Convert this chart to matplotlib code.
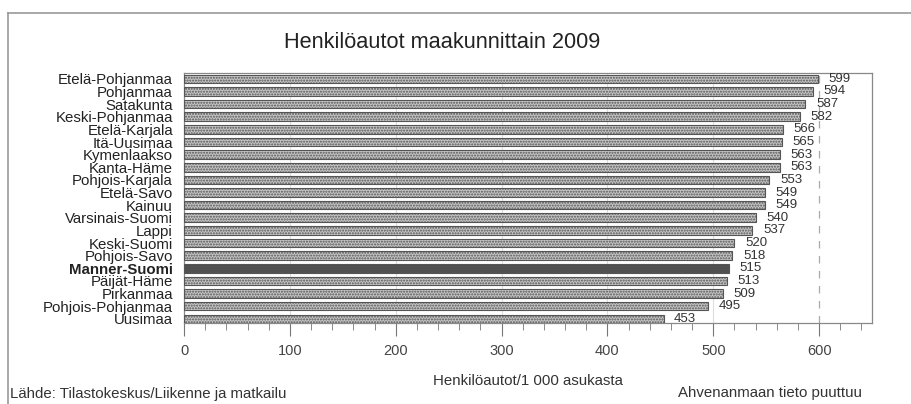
import numpy as np
import matplotlib.pyplot as plt

plt.rcParams['font.family'] = ['Liberation Sans', 'DejaVu Sans']
plt.rcParams['hatch.color'] = '#9a9a9a'

# Henkilöautot / 1 000 asukasta, 2009
regions = ['Etelä-Pohjanmaa', 'Pohjanmaa', 'Satakunta', 'Keski-Pohjanmaa',
           'Etelä-Karjala', 'Itä-Uusimaa', 'Kymenlaakso', 'Kanta-Häme',
           'Pohjois-Karjala', 'Etelä-Savo', 'Kainuu', 'Varsinais-Suomi',
           'Lappi', 'Keski-Suomi', 'Pohjois-Savo', 'Manner-Suomi',
           'Päijät-Häme', 'Pirkanmaa', 'Pohjois-Pohjanmaa', 'Uusimaa']
values = [599, 594, 587, 582, 566, 565, 563, 563, 553, 549, 549, 540,
          537, 520, 518, 515, 513, 509, 495, 453]
highlight = 'Manner-Suomi'

fig = plt.figure(figsize=(9.12, 4.04), dpi=100)
ax = fig.add_axes([0.2018, 0.2005, 0.7544, 0.619])

y = np.arange(len(regions))
colors = ['#4f4f4f' if r == highlight else '#c6c6c6' for r in regions]
ax.barh(y, values, height=0.68, color=colors, edgecolor='#555555',
        linewidth=0.8, hatch='......', zorder=3)

for yi, v in zip(y, values):
    ax.text(v + 10, yi, str(v), va='center', ha='left', fontsize=9.5,
            color='#333333')

ax.set_ylim(19.33, -0.47)
ax.set_xlim(0, 650)
ax.set_yticks(y)
ax.set_yticklabels(regions, fontsize=10.8, color='#222222')
for lbl in ax.get_yticklabels():
    if lbl.get_text() == highlight:
        lbl.set_fontweight('bold')
ax.tick_params(axis='y', length=0, pad=8)

ax.set_xticks(np.arange(0, 601, 100))
ax.set_xticks(np.arange(0, 650, 20), minor=True)
ax.tick_params(axis='x', which='major', direction='out', length=9,
               color='#777777', labelsize=10.5, labelcolor='#444444', pad=6)
ax.tick_params(axis='x', which='minor', direction='out', length=5,
               color='#777777')

for xv in range(100, 600, 100):
    ax.axvline(xv, color='#dddddd', lw=0.8, zorder=1)
ax.axvline(600, color='#aaaaaa', lw=0.9, ls=(0, (6, 6)), zorder=1)

for s in ax.spines.values():
    s.set_color('#888888')
    s.set_linewidth(0.9)

fig.text(0.485, 0.895, 'Henkilöautot maakunnittain 2009', ha='center',
         va='center', fontsize=15.7, color='#222222')
fig.text(0.579, 0.057, 'Henkilöautot/1 000 asukasta', ha='center',
         va='center', fontsize=10.8, color='#333333')
fig.text(0.011, 0.025, 'Lähde: Tilastokeskus/Liikenne ja matkailu',
         ha='left', va='center', fontsize=10.8, color='#333333')
fig.text(0.945, 0.027, 'Ahvenanmaan tieto puuttuu', ha='right',
         va='center', fontsize=10.8, color='#333333')

# outer frame lines (top and left)
fig.add_artist(plt.Line2D([0.009, 1.0], [0.968, 0.968],
                          transform=fig.transFigure, color='#999999', lw=1.2))
fig.add_artist(plt.Line2D([0.009, 0.009], [0.0, 0.968],
                          transform=fig.transFigure, color='#999999', lw=1.2))

fig.savefig('out.png', dpi=100)
